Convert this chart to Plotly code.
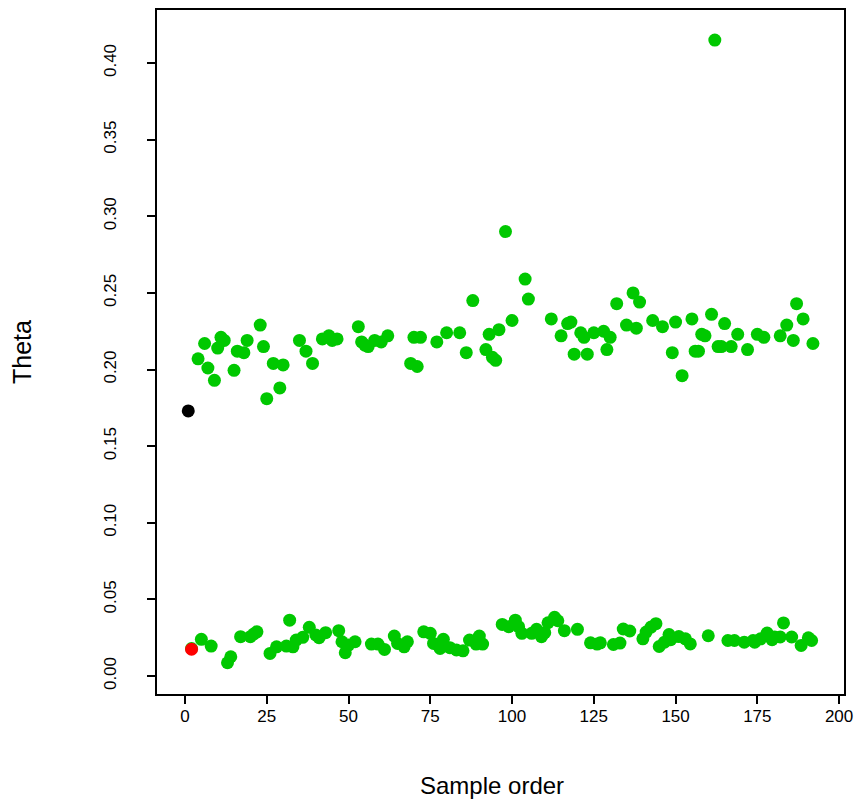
import plotly.graph_objects as go

# Upper cluster (green)
upper_x = [4, 6, 7, 9, 10, 11, 12, 15, 16, 18, 19, 23, 24, 25, 27, 29, 30, 35, 37, 39,
           42, 44, 45, 46.5, 53, 54, 55, 56, 58, 60, 62, 69, 70, 71, 72, 77, 80, 84, 86, 88,
           92, 93, 94, 95, 96, 98, 100, 104, 105, 112, 115, 117, 118, 119, 121, 122, 123, 125, 128, 129,
           130, 132, 135, 137, 138, 139, 143, 146, 149, 150, 152, 155, 156, 157, 158, 159, 161, 162, 163, 164,
           165, 167, 169, 172, 175, 177, 182, 184, 186, 187, 189, 192]
upper_y = [0.207, 0.217, 0.201, 0.193, 0.214, 0.221, 0.219, 0.1995, 0.212, 0.211, 0.219, 0.229, 0.215, 0.181, 0.204, 0.188, 0.203, 0.219, 0.212, 0.204,
           0.220, 0.222, 0.219, 0.220, 0.228, 0.218, 0.216, 0.215, 0.219, 0.218, 0.222, 0.204, 0.221, 0.202, 0.221, 0.218, 0.224, 0.224, 0.211, 0.245,
           0.213, 0.223, 0.208, 0.206, 0.226, 0.290, 0.232, 0.259, 0.246, 0.233, 0.222, 0.230, 0.231, 0.210, 0.224, 0.221, 0.210, 0.224, 0.225, 0.213,
           0.221, 0.243, 0.229, 0.250, 0.227, 0.244, 0.232, 0.228, 0.211, 0.231, 0.196, 0.233, 0.212, 0.212, 0.223, 0.222, 0.236, 0.415, 0.215, 0.215,
           0.230, 0.215, 0.223, 0.213, 0.223, 0.221, 0.222, 0.229, 0.219, 0.243, 0.233, 0.217]

# Lower cluster (green)
lower_x = [2, 5, 8, 13, 14, 17, 20, 21, 22, 26, 28, 31, 32, 33, 34, 36, 38, 40, 41, 43,
           47, 48, 49, 50, 52, 57, 59, 61, 64, 65, 67, 68, 73, 75, 76, 78, 79, 81, 83, 85,
           87, 89, 90, 91, 97, 99, 101, 102, 103, 106, 107.5, 109, 110, 111, 113, 114, 116, 120, 124, 126,
           127, 131, 133, 134, 136, 140, 141, 142.5, 144, 145, 146.6, 148, 148.5, 151, 153, 154.5, 160, 166, 168, 171,
           173.7, 174.2, 176, 178, 179.5, 180.3, 182, 183, 185.5, 188.4, 190.6, 191.6]
lower_y = [0.018, 0.024, 0.0196, 0.0087, 0.0126, 0.0257, 0.0257, 0.0274, 0.0289, 0.0148, 0.0191, 0.0196, 0.0365, 0.0191, 0.0235, 0.0253, 0.0318, 0.0268, 0.025, 0.0283,
           0.0296, 0.0224, 0.0152, 0.0202, 0.0224, 0.0209, 0.0209, 0.0174, 0.0261, 0.0213, 0.0191, 0.0224, 0.0289, 0.0279, 0.0213, 0.018, 0.024, 0.0185, 0.017, 0.0165,
           0.0235, 0.0209, 0.0261, 0.0209, 0.0337, 0.0322, 0.0365, 0.0322, 0.0279, 0.0279, 0.0305, 0.0257, 0.0283, 0.0348, 0.0383, 0.0361, 0.0296, 0.0305, 0.0217, 0.0209,
           0.0217, 0.0206, 0.0215, 0.0307, 0.0294, 0.0243, 0.0287, 0.032, 0.0342, 0.0193, 0.0221, 0.0271, 0.0237, 0.0258, 0.0243, 0.021, 0.0263, 0.0232, 0.0232, 0.0221,
           0.0232, 0.0221, 0.0243, 0.0281, 0.0237, 0.0255, 0.0255, 0.0347, 0.0255, 0.020, 0.025, 0.0232]

# Highlighted samples
black_x = [1]
black_y = [0.173]
red_x = [2]
red_y = [0.0175]

x_ticks = [0, 25, 50, 75, 100, 125, 150, 175, 200]
y_ticks = [0.00, 0.05, 0.10, 0.15, 0.20, 0.25, 0.30, 0.35, 0.40]
y_tick_text = ["0.00", "0.05", "0.10", "0.15", "0.20", "0.25", "0.30", "0.35", "0.40"]

GREEN = "#00C800"
FONT = "Liberation Sans, Arial, sans-serif"

fig = go.Figure()
fig.add_trace(go.Scatter(x=upper_x + lower_x, y=upper_y + lower_y, mode="markers",
                         marker=dict(color=GREEN, size=13, line=dict(width=0)), showlegend=False))
fig.add_trace(go.Scatter(x=black_x, y=black_y, mode="markers",
                         marker=dict(color="black", size=13, line=dict(width=0)), showlegend=False))
fig.add_trace(go.Scatter(x=red_x, y=red_y, mode="markers",
                         marker=dict(color="#FF0000", size=13, line=dict(width=0)), showlegend=False))
fig.add_trace(go.Scatter(x=red_x, y=red_y, mode="markers",
                         marker=dict(color="rgba(0,0,0,0)", size=7, symbol="circle-open",
                                     line=dict(width=1, color="#8a8a20")), showlegend=False))

fig.update_layout(
    width=854, height=799,
    margin=dict(l=157, r=10, t=10, b=105, autoexpand=False),
    paper_bgcolor="white", plot_bgcolor="white",
    font=dict(family=FONT, size=17, color="black"),
    xaxis=dict(range=[-8.56, 201.5], tickvals=x_ticks, ticks="outside", ticklen=8, tickwidth=1.5,
               tickcolor="black", showline=True, linecolor="black", linewidth=1.5, mirror=True,
               showgrid=False, zeroline=False, tickfont=dict(size=17), automargin=False,
               ticklabelstandoff=-2),
    yaxis=dict(range=[-0.0117, 0.4346], tickvals=y_ticks, ticktext=y_tick_text, ticks="outside",
               ticklen=8, tickwidth=1.5, tickcolor="black", showline=True, linecolor="black",
               linewidth=1.5, mirror=True, showgrid=False, zeroline=False, tickangle=-90,
               ticklabelstandoff=24, tickfont=dict(size=17), automargin=False),
    annotations=[
        dict(text="Sample order", xref="paper", yref="paper", x=0.4876, y=-(785 - 694) / 684,
             xanchor="center", yanchor="middle", showarrow=False, font=dict(size=24)),
        dict(text="Theta", xref="paper", yref="paper", x=-(157 - 22) / 687, y=0.5,
             xanchor="center", yanchor="middle", textangle=-90, showarrow=False, font=dict(size=25)),
    ],
)

fig.write_html("out.html")
